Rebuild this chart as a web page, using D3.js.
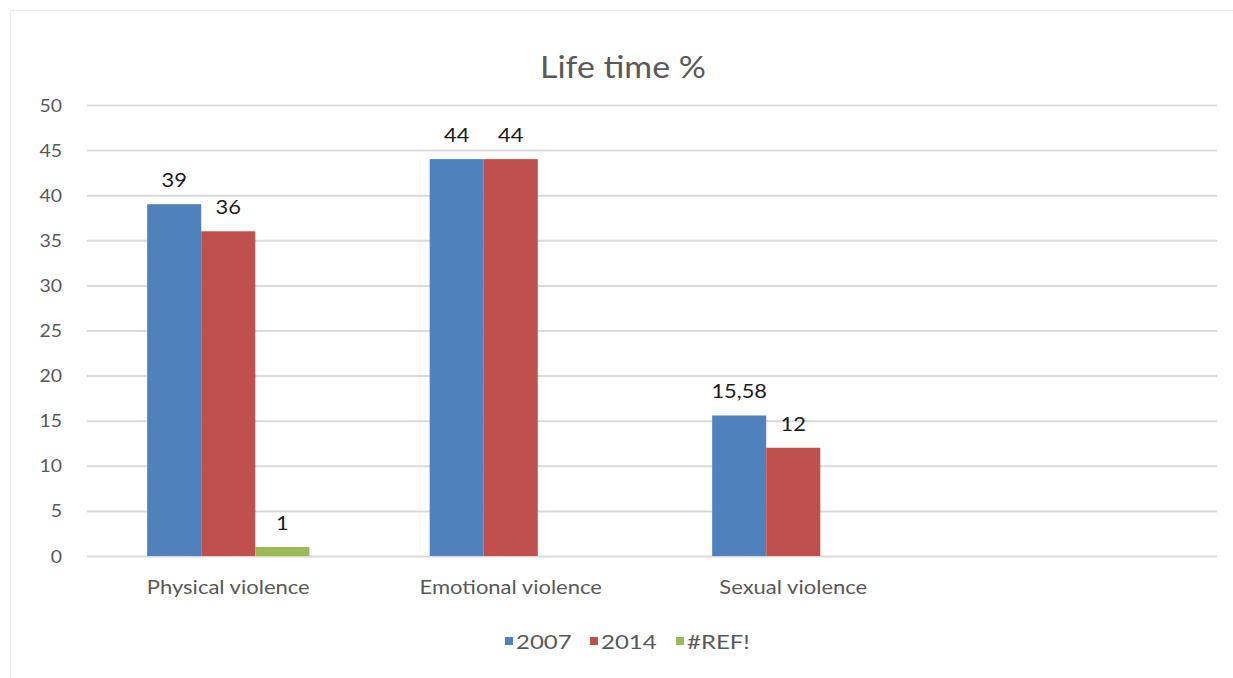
<!DOCTYPE html>
<html>
<head>
<meta charset="utf-8">
<script src="https://cdn.jsdelivr.net/npm/d3@7"></script>
<style>
  html, body { margin: 0; padding: 0; background: #fff; }
  svg { display: block; }
  text { font-family: Lato, "Open Sans", "Liberation Sans", sans-serif; }
</style>
</head>
<body>
<svg id="chart" width="1233" height="678"></svg>
<script>
// Categories (the fourth slot is an empty category in the source sheet)
const categories = ["Physical violence", "Emotional violence", "Sexual violence", ""];
const seriesNames = ["2007", "2014", "#REF!"];
const values2007 = [39, 44, 15.58, null];
const values2014 = [36, 44, 12, null];
const valuesRef = [1, null, null, null];
const yTicks = [0, 5, 10, 15, 20, 25, 30, 35, 40, 45, 50];
const colors = ["#4F81BD", "#C0504D", "#9BBB59"];

const series = [values2007, values2014, valuesRef];

const svg = d3.select("#chart");
const plot = { left: 87, right: 1217, top: 105, bottom: 556 };

// Text is drawn slightly wide, like the spreadsheet export
function label(parent, x, y, str, opts) {
  const sx = opts.sx || 1.12;
  return parent.append("text")
    .attr("transform", `translate(${x},${y}) scale(${sx},1)`)
    .attr("text-anchor", opts.anchor || "middle")
    .attr("font-size", opts.size)
    .attr("fill", opts.fill || "#595959")
    .text(str);
}

// Chart area frame
svg.append("rect")
  .attr("x", 10.5).attr("y", 10.5)
  .attr("width", 1250).attr("height", 720)
  .attr("fill", "none").attr("stroke", "#ececec").attr("stroke-width", 1);

const y = d3.scaleLinear().domain([0, 50]).range([plot.bottom, plot.top]);
const x0 = d3.scaleBand().domain(d3.range(categories.length))
  .range([plot.left, plot.right]).paddingInner(0.426).paddingOuter(0.213);
const x1 = d3.scaleBand().domain(d3.range(seriesNames.length))
  .range([0, x0.bandwidth()]);

// Gridlines with value labels
const yAxis = d3.axisLeft(y).tickValues(yTicks).tickSize(-(plot.right - plot.left)).tickFormat("");
const gy = svg.append("g").attr("transform", `translate(${plot.left},0)`).call(yAxis);
gy.select(".domain").remove();
gy.selectAll(".tick line").attr("stroke", "#d9d9d9").attr("stroke-width", 2);
yTicks.forEach(t => label(svg, plot.left - 25, y(t) + 6.5, String(t), { size: 18, anchor: "end", sx: 1.08 }));

// Bars and value labels
const fmt = v => (Number.isInteger(v) ? String(v) : String(v).replace(".", ","));
series.forEach((vals, si) => {
  const g = svg.append("g");
  const data = vals.map((v, ci) => ({ v, ci })).filter(d => d.v !== null);
  g.selectAll("rect").data(data).join("rect")
    .attr("x", d => x0(d.ci) + x1(si))
    .attr("y", d => y(d.v))
    .attr("width", x1.bandwidth())
    .attr("height", d => y(0) - y(d.v))
    .attr("fill", colors[si]);
  data.forEach(d => label(g, x0(d.ci) + x1(si) + x1.bandwidth() / 2, y(d.v) - 17, fmt(d.v),
    { size: 19, fill: "#1a1a1a", sx: 1.15 }));
});

// Category labels
const gx = svg.append("g");
categories.forEach((c, i) => {
  if (c) label(gx, x0(i) + x0.bandwidth() / 2, 594, c, { size: 20, sx: 1.1 });
});

// Title
label(svg, 623, 78, "Life time %", { size: 30, sx: 1.13 });

// Legend
const legendX = [505, 590, 676];
const lg = svg.append("g");
seriesNames.forEach((name, i) => {
  lg.append("rect")
    .attr("x", legendX[i]).attr("y", 637)
    .attr("width", 8).attr("height", 8)
    .attr("fill", colors[i]);
  label(lg, legendX[i] + 11, 649, name, { size: 20, anchor: "start", sx: 1.2 });
});
</script>
</body>
</html>
